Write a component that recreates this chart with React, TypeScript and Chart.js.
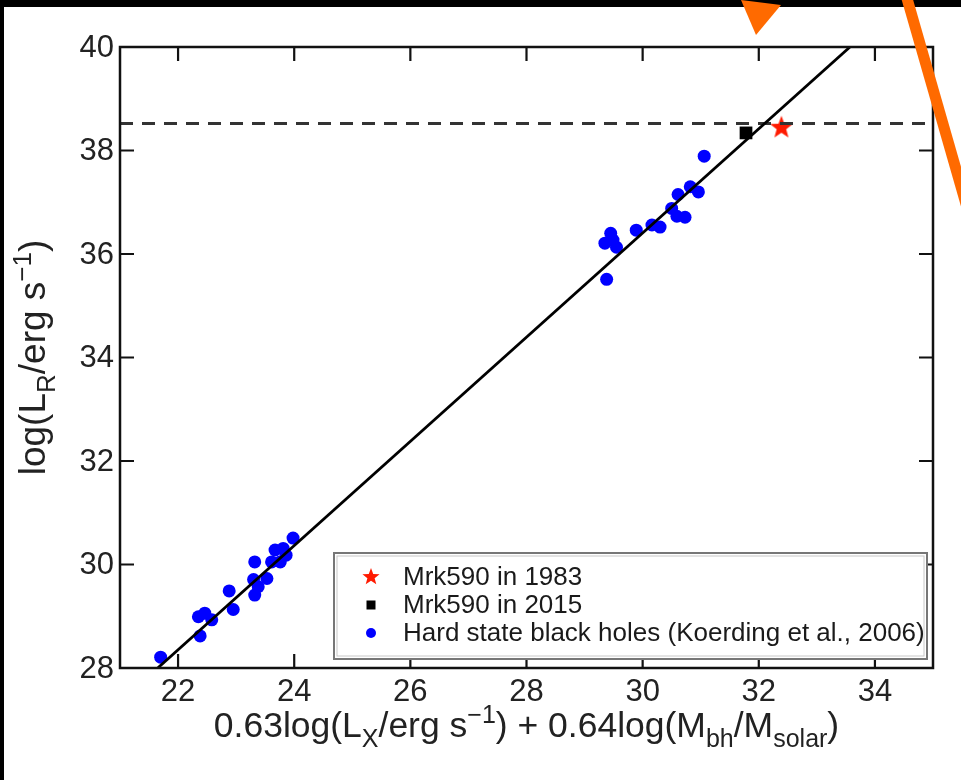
import React, { useEffect, useRef } from 'react';
import { Chart, registerables } from 'chart.js';

Chart.register(...registerables);

// ---------- data ----------
const xMin = 21;
const xMax = 35;
const yMin = 28;
const yMax = 40;
const xTicks = [22, 24, 26, 28, 30, 32, 34];
const yTicks = [28, 30, 32, 34, 36, 38, 40];

const hardStateX = [
  21.70, 22.38, 22.35, 22.46, 22.58, 22.95, 22.88, 23.32, 23.30, 23.32, 23.38, 23.53, 23.61, 23.67, 23.81, 23.76, 23.86, 23.98,
  31.06, 29.38, 29.35, 29.45, 29.49, 29.55, 29.89, 30.16, 30.30, 30.50, 30.59, 30.73, 30.61, 30.82, 30.96,
];
const hardStateY = [
  28.21, 28.62, 28.99, 29.06, 28.93, 29.13, 29.49, 30.05, 29.71, 29.41, 29.57, 29.73, 30.05, 30.28, 30.31, 30.05, 30.18, 30.51,
  37.89, 35.51, 36.21, 36.40, 36.27, 36.13, 36.46, 36.56, 36.52, 36.88, 36.73, 36.71, 37.15, 37.30, 37.20,
];
const mrk1983X = [32.39];
const mrk1983Y = [38.46];
const mrk2015X = [31.78];
const mrk2015Y = [38.34];
const fitX = [21.65, 33.57];
const fitY = [28, 40];
const dashedLevel = 38.52;

const legendLabels = [
  'Mrk590 in 1983',
  'Mrk590 in 2015',
  'Hard state black holes (Koerding et al., 2006)',
];

// ---------- helpers ----------
const FONT = '"Liberation Sans", Arial, Helvetica, sans-serif';

type Run = { t: string; size: number; dy: number };

function starPath(ctx: CanvasRenderingContext2D, cx: number, cy: number, R: number, r: number) {
  ctx.beginPath();
  for (let i = 0; i < 10; i++) {
    const rad = i % 2 === 0 ? R : r;
    const a = -Math.PI / 2 + (i * Math.PI) / 5;
    const px = cx + rad * Math.cos(a);
    const py = cy + rad * Math.sin(a);
    if (i === 0) ctx.moveTo(px, py);
    else ctx.lineTo(px, py);
  }
  ctx.closePath();
}

function drawRich(ctx: CanvasRenderingContext2D, runs: Run[], x: number, y: number) {
  let total = 0;
  const widths: number[] = [];
  for (const r of runs) {
    ctx.font = `${r.size}px ${FONT}`;
    const w = ctx.measureText(r.t).width;
    widths.push(w);
    total += w;
  }
  let cur = x - total / 2;
  ctx.textAlign = 'left';
  ctx.textBaseline = 'alphabetic';
  runs.forEach((r, i) => {
    ctx.font = `${r.size}px ${FONT}`;
    ctx.fillText(r.t, cur, y + r.dy);
    cur += widths[i];
  });
}

const M = 35.5; // x title font size
const S = 25; // sub / superscript size
const MY = 37; // y title font size
const SY = 26;
const xTitleRuns: Run[] = [
  { t: '0.63log(L', size: M, dy: 0 },
  { t: 'X', size: S, dy: 10 },
  { t: '/erg s', size: M, dy: 0 },
  { t: '\u22121', size: S, dy: -14 },
  { t: ') + 0.64log(M', size: M, dy: 0 },
  { t: 'bh', size: S, dy: 10 },
  { t: '/M', size: M, dy: 0 },
  { t: 'solar', size: S, dy: 10 },
  { t: ')', size: M, dy: 0 },
];
const yTitleRuns: Run[] = [
  { t: 'log(L', size: MY, dy: 0 },
  { t: 'R', size: SY, dy: 10 },
  { t: '/erg s', size: MY, dy: 0 },
  { t: '\u22121', size: SY, dy: -14 },
  { t: ')', size: MY, dy: 0 },
];

const framePlugin = {
  id: 'frame',
  afterDatasetsDraw(chart: any) {
    const ctx: CanvasRenderingContext2D = chart.ctx;
    const xs = chart.scales.x;
    const ys = chart.scales.y;
    const { left, right, top, bottom } = chart.chartArea;
    ctx.save();
    // box
    ctx.strokeStyle = '#111';
    ctx.lineWidth = 2.5;
    ctx.strokeRect(left, top, right - left, bottom - top);
    // ticks (inward, all four sides)
    const tl = 14;
    ctx.lineWidth = 2.2;
    ctx.beginPath();
    for (const v of xTicks) {
      const px = xs.getPixelForValue(v);
      ctx.moveTo(px, bottom);
      ctx.lineTo(px, bottom - tl);
      ctx.moveTo(px, top);
      ctx.lineTo(px, top + tl);
    }
    for (const v of yTicks) {
      const py = ys.getPixelForValue(v);
      ctx.moveTo(left, py);
      ctx.lineTo(left + tl, py);
      ctx.moveTo(right, py);
      ctx.lineTo(right - tl, py);
    }
    ctx.stroke();

    // tick labels
    ctx.fillStyle = '#222';
    ctx.font = `31px ${FONT}`;
    ctx.textAlign = 'right';
    ctx.textBaseline = 'middle';
    for (const v of yTicks) {
      ctx.fillText(String(v), left - 6, ys.getPixelForValue(v) + 1);
    }
    ctx.textAlign = 'center';
    ctx.textBaseline = 'alphabetic';
    for (const v of xTicks) {
      ctx.fillText(String(v), xs.getPixelForValue(v), bottom + 33);
    }

    // axis titles
    drawRich(ctx, xTitleRuns, (left + right) / 2, bottom + 69);
    ctx.save();
    ctx.translate(45, (top + bottom) / 2);
    ctx.rotate(-Math.PI / 2);
    drawRich(ctx, yTitleRuns, 0, 0);
    ctx.restore();

    // legend box
    const lx = 334;
    const ly = 553;
    const lw = right - 6 - lx;
    const lh = bottom - 9 - ly;
    ctx.fillStyle = '#fff';
    ctx.fillRect(lx, ly, lw, lh);
    ctx.strokeStyle = '#777';
    ctx.lineWidth = 2;
    ctx.strokeRect(lx, ly, lw, lh);
    ctx.strokeStyle = '#c8c8c8';
    ctx.lineWidth = 1;
    ctx.strokeRect(lx + 3, ly + 3, lw - 6, lh - 6);

    const rowY = [ly + 24, ly + 52, ly + 80];
    const mx = lx + 37;
    // star
    ctx.fillStyle = '#ff1a00';
    starPath(ctx, mx, rowY[0], 9, 3.8);
    ctx.fill();
    // square
    ctx.fillStyle = '#000';
    ctx.fillRect(mx - 4.5, rowY[1] - 4.5, 9, 9);
    // dot
    ctx.fillStyle = '#0000ff';
    ctx.beginPath();
    ctx.arc(mx, rowY[2], 5, 0, Math.PI * 2);
    ctx.fill();

    ctx.fillStyle = '#1a1a1a';
    ctx.font = `26px ${FONT}`;
    ctx.textAlign = 'left';
    ctx.textBaseline = 'middle';
    legendLabels.forEach((t, i) => ctx.fillText(t, lx + 69, rowY[i] + 1));
    ctx.restore();
  },
  afterDraw(chart: any) {
    const ctx: CanvasRenderingContext2D = chart.ctx;
    const W = chart.width;
    const H = chart.height;
    ctx.save();
    // black slide edges
    ctx.fillStyle = '#000';
    ctx.fillRect(0, 0, W, 7);
    ctx.fillRect(0, 0, 4, H);
    // orange annotation arrows
    ctx.fillStyle = '#ff6a00';
    ctx.beginPath();
    ctx.moveTo(741, 0);
    ctx.lineTo(781, 5);
    ctx.lineTo(756, 35);
    ctx.closePath();
    ctx.fill();
    ctx.strokeStyle = '#ff6a00';
    ctx.lineWidth = 11;
    ctx.lineCap = 'butt';
    ctx.beginPath();
    ctx.moveTo(906, -5);
    ctx.lineTo(972, 225);
    ctx.stroke();
    ctx.restore();
  },
};

function makeStar(size: number, R: number, r: number, color: string) {
  const c = document.createElement('canvas');
  c.width = size;
  c.height = size;
  const g = c.getContext('2d')!;
  g.fillStyle = color;
  starPath(g, size / 2, size / 2 + 1, R, r);
  g.fill();
  return c;
}

export default function App() {
  const ref = useRef<HTMLCanvasElement | null>(null);

  useEffect(() => {
    if (!ref.current) return;
    const star = makeStar(26, 12, 5, '#ff1a00');
    const chart = new Chart(ref.current, {
      type: 'scatter',
      data: {
        datasets: [
          {
            label: 'fit',
            data: fitX.map((x, i) => ({ x, y: fitY[i] })),
            showLine: true,
            borderColor: '#000',
            borderWidth: 2.8,
            pointRadius: 0,
            order: 0,
          },
          {
            label: 'level',
            data: [
              { x: xMin, y: dashedLevel },
              { x: xMax, y: dashedLevel },
            ],
            showLine: true,
            borderColor: '#333',
            borderWidth: 3,
            borderDash: [13, 9],
            pointRadius: 0,
            order: 1,
          },
          {
            label: legendLabels[1],
            data: mrk2015X.map((x, i) => ({ x, y: mrk2015Y[i] })),
            pointStyle: 'rect',
            pointRadius: 9,
            backgroundColor: '#000',
            borderWidth: 0,
            order: 2,
          },
          {
            label: legendLabels[0],
            data: mrk1983X.map((x, i) => ({ x, y: mrk1983Y[i] })),
            pointStyle: star as any,
            pointRadius: 12,
            backgroundColor: '#ff1a00',
            borderWidth: 0,
            order: 2,
          },
          {
            label: legendLabels[2],
            data: hardStateX.map((x, i) => ({ x, y: hardStateY[i] })),
            pointStyle: 'circle',
            pointRadius: 6.5,
            backgroundColor: '#0000ff',
            borderWidth: 0,
            order: 3,
          },
        ],
      },
      options: {
        animation: false,
        responsive: false,
        events: [],
        layout: { padding: { left: 120, top: 47, right: 28, bottom: 112 } },
        scales: {
          x: { type: 'linear', min: xMin, max: xMax, display: false },
          y: { type: 'linear', min: yMin, max: yMax, display: false },
        },
        plugins: {
          legend: { display: false },
          tooltip: { enabled: false },
        },
      },
      plugins: [framePlugin],
    });
    return () => chart.destroy();
  }, []);

  return (
    <div style={{ position: 'fixed', left: 0, top: 0, width: 961, height: 780, background: '#fff' }}>
      <canvas ref={ref} width={961} height={780} style={{ display: 'block' }} />
    </div>
  );
}
